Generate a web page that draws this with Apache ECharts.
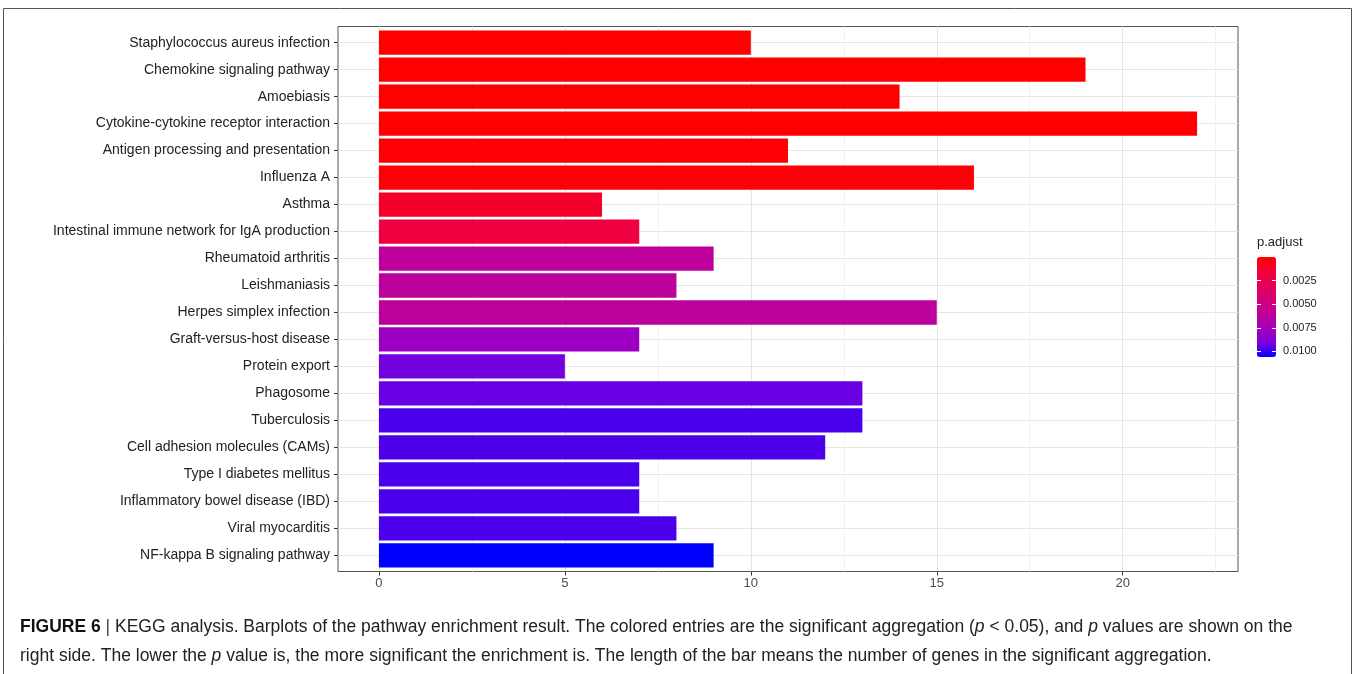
<!DOCTYPE html>
<html><head><meta charset="utf-8">
<script src="https://cdn.jsdelivr.net/npm/echarts@6/dist/echarts.min.js"></script>
<style>html,body{margin:0;padding:0;background:#fff}#c{width:1355px;height:674px}</style>
</head><body><div id="c"></div>
<script>
const categories = [
  'Staphylococcus aureus infection','Chemokine signaling pathway','Amoebiasis',
  'Cytokine-cytokine receptor interaction','Antigen processing and presentation','Influenza A',
  'Asthma','Intestinal immune network for IgA production','Rheumatoid arthritis','Leishmaniasis',
  'Herpes simplex infection','Graft-versus-host disease','Protein export','Phagosome','Tuberculosis',
  'Cell adhesion molecules (CAMs)','Type I diabetes mellitus','Inflammatory bowel disease (IBD)',
  'Viral myocarditis','NF-kappa B signaling pathway'
];
const geneCounts = [10,19,14,22,11,16,6,7,9,8,15,7,5,13,13,12,7,7,8,9];
const pAdjust = [0.00001,0.00002,0.00004,0.00006,0.00010,0.00018,0.00117,0.00200,0.00615,0.00620,
  0.00620,0.00790,0.00920,0.00940,0.00975,0.00970,0.00975,0.00975,0.00975,0.01060];
const xTickValues = [0,5,10,15,20];
const xMinorValues = [2.5,7.5,12.5,17.5,22.5];
const legendTicks = [0.0025,0.0050,0.0075,0.0100];
const pRange = [0, 0.0106];
const gradient = ['#FF0000','#F40031','#E80050','#DA006C','#CA0089','#B500A5','#9A00C3','#7300E0','#0000FF'];

const chart = echarts.init(document.getElementById('c'));
const FONT = 'Liberation Sans, Arial, sans-serif';
const xExtent = {min: -1.1, max: 23.1};
const P = {left: 338, top: 26.5, width: 900, height: 545};
const bandPad = P.height * 0.1 / 20.2;
const CAP = 17.5;

chart.setOption({
  animation: false,
  backgroundColor: '#fff',
  textStyle: {fontFamily: FONT},
  graphic: [{type:'rect', shape:{x:3.5, y:8.5, width:1348, height:700}, style:{fill:'none', stroke:'#555', lineWidth:1}, z:-10}],
  title: [
    {left: 1257, top: 236, padding: 0, text: 'p.adjust',
     textStyle: {fontSize: 13, fontWeight: 'normal', color: '#222', fontFamily: FONT}},
    {left: 20, top: 613, padding: 0,
     text: '{b|FIGURE 6}{s| | }KEGG analysis. Barplots of the pathway enrichment result. The colored entries are the significant aggregation ({i|p} < 0.05), and {i|p} values are shown on the\nright side. The lower the {i|p} value is, the more significant the enrichment is. The length of the bar means the number of genes in the significant aggregation.',
     textStyle: {fontSize: CAP, fontWeight: 'normal', color: '#222', lineHeight: 29, fontFamily: FONT,
       rich: {
         b: {fontWeight: 'bold', fontSize: CAP, color: '#111', fontFamily: FONT, lineHeight: 29},
         s: {fontSize: CAP, color: '#444', fontFamily: FONT, lineHeight: 29},
         i: {fontStyle: 'italic', fontSize: CAP, color: '#222', fontFamily: FONT, lineHeight: 29}
       }}}
  ],
  grid: [
    {left: P.left, top: P.top, width: P.width, height: P.height, show: true, borderColor: '#555', borderWidth: 1, backgroundColor: 'transparent'},
    {left: P.left, top: P.top + bandPad, width: P.width, height: P.height - 2*bandPad, show: false},
    {left: 1257, top: 257, width: 19, height: 100, show: false}
  ],
  xAxis: [
    {gridIndex: 0, type: 'value', min: xExtent.min, max: xExtent.max, position: 'bottom', z: 1,
     axisLine: {show: false, onZero: false},
     axisTick: {show: true, length: 4, lineStyle: {color: '#333'}, customValues: xTickValues},
     axisLabel: {customValues: xTickValues, color: '#4D4D4D', fontSize: 13, margin: 5, fontFamily: FONT},
     splitLine: {show: true, lineStyle: {color: '#E6E6E6', width: 1}}},
    {gridIndex: 0, type: 'value', min: xExtent.min, max: xExtent.max, position: 'bottom', z: 0,
     axisLine: {show: false, onZero: false},
     axisTick: {show: false, customValues: xMinorValues},
     axisLabel: {show: false},
     splitLine: {show: true, lineStyle: {color: '#F2F2F2', width: 1}}},
    {gridIndex: 1, type: 'value', min: xExtent.min, max: xExtent.max, show: false, axisLine: {onZero: false}},
    {gridIndex: 2, type: 'value', min: 0, max: 1, show: false, axisLine: {onZero: false}}
  ],
  yAxis: [
    {gridIndex: 0, type: 'value', min: -0.6, max: categories.length - 0.4, inverse: true,
     axisLine: {show: false, onZero: false}, axisLabel: {show: false},
     axisTick: {show: false, customValues: categories.map((c, i) => i)},
     splitLine: {show: true, lineStyle: {color: '#E6E6E6', width: 1}}},
    {gridIndex: 1, type: 'category', data: categories, inverse: true, position: 'left',
     axisLine: {show: false, onZero: false},
     axisTick: {show: true, alignWithLabel: true, length: 4, lineStyle: {color: '#333'}},
     axisLabel: {color: '#222', fontSize: 14, margin: 8, fontFamily: FONT},
     splitLine: {show: false}},
    {gridIndex: 2, type: 'value', min: pRange[0], max: pRange[1], inverse: true, position: 'left', z: 10,
     axisLine: {show: false, onZero: false}, axisLabel: {show: false},
     axisTick: {show: true, inside: true, length: 4, customValues: legendTicks, lineStyle: {color: '#fff', width: 1}},
     splitLine: {show: false}},
    {gridIndex: 2, type: 'value', min: pRange[0], max: pRange[1], inverse: true, position: 'right', z: 10,
     axisLine: {show: false, onZero: false},
     axisLabel: {customValues: legendTicks, formatter: v => v.toFixed(4), fontSize: 11, color: '#222', margin: 7, fontFamily: FONT},
     axisTick: {show: true, inside: true, length: 4, customValues: legendTicks, lineStyle: {color: '#fff', width: 1}},
     splitLine: {show: false}}
  ],
  visualMap: {
    type: 'continuous', seriesIndex: 0, dimension: 2,
    min: pRange[0], max: pRange[1], inverse: true, calculable: false,
    left: 1257, top: 257, itemWidth: 19, itemHeight: 100, padding: 0,
    showLabel: false, text: null,
    inRange: {color: gradient}
  },
  series: [{
    type: 'bar', xAxisIndex: 2, yAxisIndex: 1, barWidth: '90%',
    encode: {x: 0, y: 1},
    data: categories.map((c, i) => [geneCounts[i], c, pAdjust[i]])
  }]
});
</script></body></html>
